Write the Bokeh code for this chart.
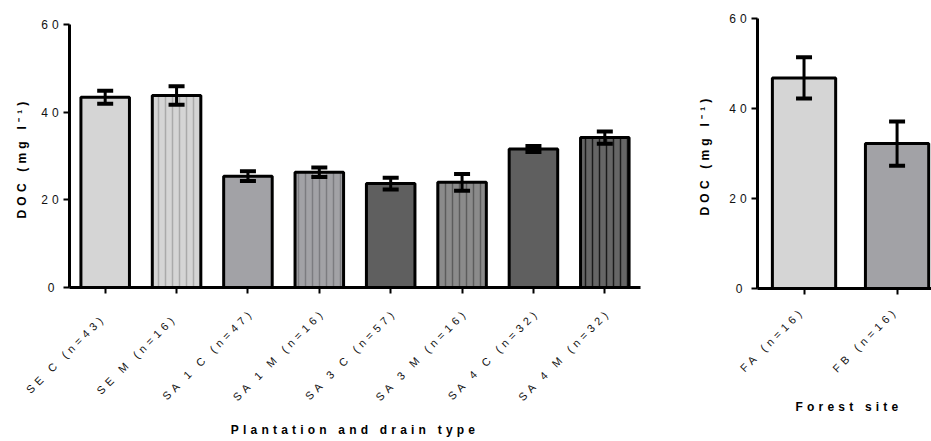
import math
from bokeh.plotting import figure
from bokeh.layouts import row, column
from bokeh.models import (ColumnDataSource, Whisker, TeeHead, FixedTicker, Range1d,
                          LinearAxis, Title, Div)
from bokeh.embed import file_html
from bokeh.resources import INLINE

# ---- data ----
plantation = ["SE C (n=43)", "SE M (n=16)", "SA 1 C (n=47)", "SA 1 M (n=16)",
              "SA 3 C (n=57)", "SA 3 M (n=16)", "SA 4 C (n=32)", "SA 4 M (n=32)"]
plantation_doc = [43.4, 43.8, 25.4, 26.3, 23.7, 24.0, 31.6, 34.2]
plantation_err = [1.5, 2.1, 1.1, 1.1, 1.35, 1.9, 0.7, 1.4]

forest = ["FA (n=16)", "FB (n=16)"]
forest_doc = [46.8, 32.2]
forest_err = [4.6, 4.9]

y_ticks = [0, 20, 40, 60]
y_title = "DOC (mg l\u207b\u00b9)"
plantation_title = "Plantation and drain type"
forest_title = "Forest site"

# ---- styles ----
plantation_fill = ["#d5d5d5", "#d5d5d5", "#a2a2a6", "#a2a2a6",
                   "#5f5f5f", "#8b8b8b", "#5f5f5f", "#666666"]
plantation_hatch = [" ", "|", " ", "|", " ", "|", " ", "|"]
plantation_hcol = ["#aaaaaa", "#aaaaaa", "#7c7c80", "#7c7c80",
                   "#3a3a3a", "#5c5c5c", "#3a3a3a", "#1a1a1a"]
forest_fill = ["#d5d5d5", "#a2a2a6"]
FONT = "Liberation Sans"
SP = 4.2  # letter spacing in px (CSS)
SPACING = [":host { letter-spacing: %.1fpx; }" % SP]
C45 = math.cos(math.pi / 4)
TEXT_COLOR = "#111111"


def make_panel(labels, vals, errs, fills, hatches, hcols, x_end, px_per_cat,
               width, height, bl, br, bt, bb, yt_off, yt_stand, lab_dx, lab_dy):
    idx = list(range(len(labels)))
    src = ColumnDataSource(dict(
        x=idx, top=vals,
        upper=[v + e for v, e in zip(vals, errs)],
        lower=[v - e for v, e in zip(vals, errs)],
        fill=fills, hatch=hatches, hcol=hcols))
    p = figure(width=width, height=height, output_backend="svg", toolbar_location=None,
               x_range=Range1d(-0.5, x_end), y_range=Range1d(0, 60),
               min_border_left=bl, min_border_right=br, min_border_top=bt,
               min_border_bottom=bb)
    p.stylesheets = SPACING
    p.outline_line_color = None
    p.xgrid.visible = False
    p.ygrid.visible = False
    p.background_fill_color = "white"
    p.border_fill_color = "white"

    p.vbar(x="x", top="top", bottom=0, width=0.68, source=src,
           fill_color="fill", hatch_pattern="hatch", hatch_color="hcol",
           hatch_scale=7, hatch_weight=1.5,
           line_color="black", line_width=3)
    w = Whisker(source=src, base="x", upper="upper", lower="lower",
                line_color="black", line_width=3, level="overlay",
                upper_head=TeeHead(size=16, line_width=4, line_color="black"),
                lower_head=TeeHead(size=16, line_width=4, line_color="black"))
    p.add_layout(w)

    # main axes (ticks only on x)
    p.xaxis.ticker = FixedTicker(ticks=idx)
    p.xaxis.major_label_overrides = {i: "" for i in idx}
    p.yaxis.ticker = FixedTicker(ticks=y_ticks)
    for ax in (p.xaxis[0], p.yaxis[0]):
        ax.axis_line_width = 3
        ax.axis_line_color = "black"
        ax.major_tick_in = 0
        ax.major_tick_out = 6
        ax.major_tick_line_width = 2
        ax.minor_tick_line_color = None
        ax.major_label_text_font = FONT
        ax.major_label_text_color = TEXT_COLOR
    p.yaxis.major_label_text_font_size = "12px"
    p.yaxis.major_label_standoff = 9

    # category labels on a shifted range, compensating the CSS letter spacing
    c_mean = sum((len(t) - 1) * SP * C45 for t in labels) / len(labels)
    d = min((c_mean + lab_dx) / px_per_cat, 0.49)
    p.extra_x_ranges = {"lab": Range1d(-0.5 + d, x_end + d)}
    lab_axis = LinearAxis(x_range_name="lab", ticker=FixedTicker(ticks=idx),
                          major_label_overrides={i: t for i, t in zip(idx, labels)},
                          major_label_orientation=math.pi / 4,
                          major_label_standoff=int(round(14 + c_mean + lab_dy)),
                          axis_line_color=None, major_tick_line_color=None,
                          minor_tick_line_color=None, major_tick_out=0,
                          major_tick_in=0,
                          major_label_text_font=FONT,
                          major_label_text_font_size="11px",
                          major_label_text_color=TEXT_COLOR)
    p.add_layout(lab_axis, "below")

    # y title (left anchored, so the spacing needs no compensation)
    p.add_layout(Title(text=y_title, align="left", offset=yt_off, standoff=yt_stand,
                       vertical_align="middle", text_font=FONT,
                       text_font_size="12px", text_font_style="bold",
                       text_color="black"), "left")
    return p


def title_div(text, width, pad_left):
    return Div(text=text, width=width, height=20,
               styles={"font-family": FONT, "font-size": "12px",
                       "font-weight": "bold", "letter-spacing": "%.1fpx" % SP,
                       "color": "black", "text-align": "center",
                       "line-height": "20px", "white-space": "nowrap",
                       "padding-left": "%dpx" % pad_left,
                       "box-sizing": "border-box", "margin": "0"})


LEFT_W = 683
RIGHT_W = 931 - LEFT_W

left = make_panel(plantation, plantation_doc, plantation_err,
                  plantation_fill, plantation_hatch, plantation_hcol,
                  7.5, 571 / 8, LEFT_W, 420, 69, LEFT_W - 640, 24, 420 - 287, 69, 17,
                  0, 7)
right = make_panel(forest, forest_doc, forest_err,
                   forest_fill, [" ", " "], ["#000000", "#000000"],
                   1.37, 93, RIGHT_W, 397, 757 - LEFT_W, 0, 18, 397 - 288, 73, 27,
                   4, 3)

left_col = column(left, title_div(plantation_title, LEFT_W, 2 * 355 - LEFT_W))
right_col = column(right, title_div(forest_title, RIGHT_W, 2 * (849 - LEFT_W) - RIGHT_W))

layout = row(left_col, right_col)
open("out.html", "w").write(file_html(layout, INLINE))
